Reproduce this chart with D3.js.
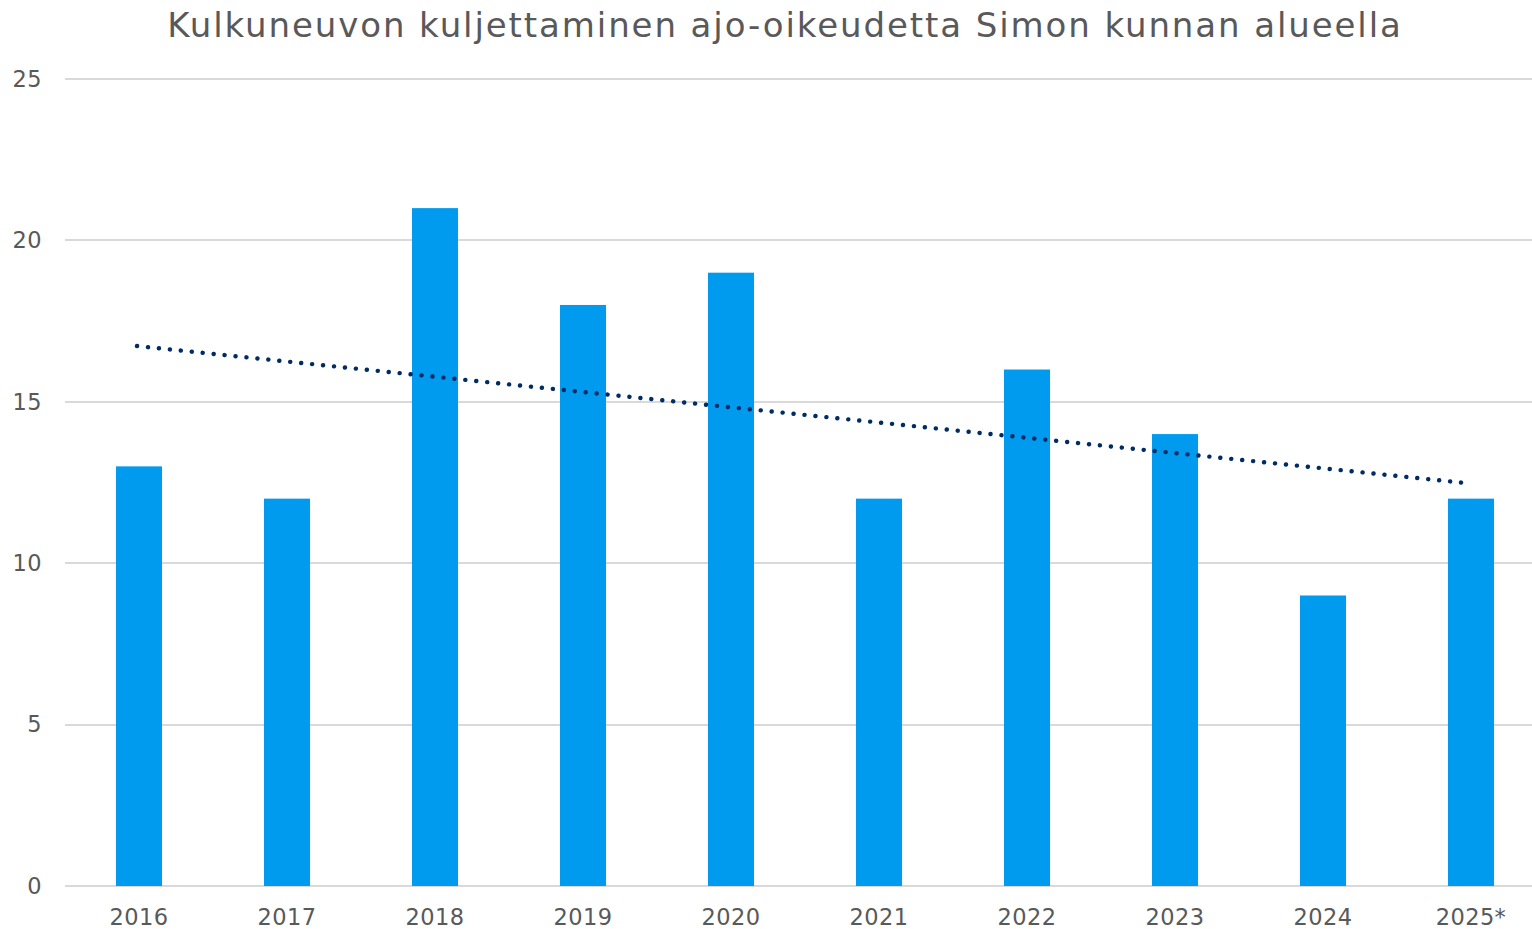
<!DOCTYPE html>
<meta charset="utf-8">
<style>
html, body {
  margin: 0;
  background: #fff;
}

.chart {
  display: block;
  font-family: "DejaVu Sans", Verdana, sans-serif;
}

.chart .grid line {
  stroke: #d9d9d9;
  stroke-width: 2;
  shape-rendering: crispEdges;
}

.chart .tick-label {
  fill: #595959;
  font-size: 22.5px;
  letter-spacing: 0.4px;
}

.chart .bar {
  fill: #009bee;
}

.chart .trend {
  fill: none;
  stroke: #002c66;
  stroke-width: 4.4;
  stroke-linecap: round;
  stroke-dasharray: 0.1 10.9;
}

.chart .title {
  fill: #595959;
  font-size: 34px;
  letter-spacing: 1.9px;
}
</style>
<body>
<svg class="chart js-chart"></svg>

<script src="https://d3js.org/d3.v7.min.js"></script>
<script type="text/javascript">
"use strict";

var title = "Kulkuneuvon kuljettaminen ajo-oikeudetta Simon kunnan alueella";
var years = ["2016", "2017", "2018", "2019", "2020", "2021", "2022", "2023", "2024", "2025*"];
var counts = [13, 12, 21, 18, 19, 12, 16, 14, 9, 12];
var yTicks = [0, 5, 10, 15, 20, 25];

var width = 1532,
    height = 929;

var svg = d3.select(".js-chart")
  .attr("width", width)
  .attr("height", height);

// plot box runs past the right edge a bit, like the original
var x = d3.scaleBand()
  .domain(years)
  .range([65, 1545])
  .paddingInner(0.689)
  .paddingOuter(0.3445);

var y = d3.scaleLinear()
  .domain([0, 25])
  .range([886, 79]);

svg.append("text")
  .attr("class", "title")
  .attr("x", 785)
  .attr("y", 37)
  .attr("text-anchor", "middle")
  .text(title);

var grid = svg.append("g").attr("class", "grid");

grid.selectAll("line").data(yTicks)
  .enter().append("line")
    .attr("x1", 65)
    .attr("x2", width)
    .attr("y1", function (d) { return y(d); })
    .attr("y2", function (d) { return y(d); });

svg.append("g").selectAll("text").data(yTicks)
  .enter().append("text")
    .attr("class", "tick-label")
    .attr("x", 42)
    .attr("y", function (d) { return y(d); })
    .attr("dy", "0.35em")
    .attr("text-anchor", "end")
    .text(String);

svg.append("g").selectAll("rect").data(counts)
  .enter().append("rect")
    .attr("class", "bar")
    .attr("x", function (d, i) { return x(years[i]); })
    .attr("y", function (d) { return y(d); })
    .attr("width", x.bandwidth())
    .attr("height", function (d) { return y(0) - y(d); });

svg.append("g").selectAll("text").data(years)
  .enter().append("text")
    .attr("class", "tick-label")
    .attr("x", function (d) { return x(d) + x.bandwidth() / 2; })
    .attr("y", 925)
    .attr("text-anchor", "middle")
    .text(String);

// linear trend (least squares) over the bars
var n = counts.length,
    meanX = d3.mean(counts, function (d, i) { return i; }),
    meanY = d3.mean(counts),
    sxy = d3.sum(counts, function (d, i) { return (i - meanX) * (d - meanY); }),
    sxx = d3.sum(counts, function (d, i) { return (i - meanX) * (i - meanX); }),
    slope = sxy / sxx,
    icept = meanY - slope * meanX;

var trend = [0, n - 1].map(function (i) {
  return [x(years[i]) + x.bandwidth() / 2 - 2, y(icept + slope * i)];
});

svg.append("path")
  .attr("class", "trend")
  .attr("d", d3.line()(trend));
</script>
</body>
